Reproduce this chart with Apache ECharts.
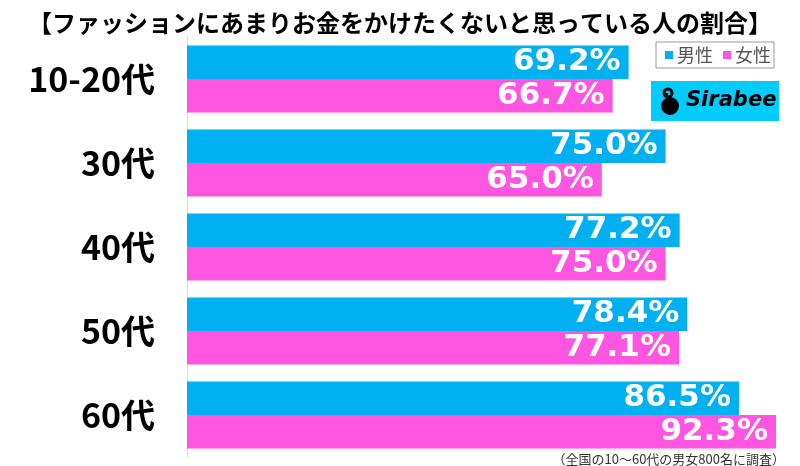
<!DOCTYPE html>
<html><head><meta charset="utf-8">
<script src="https://cdn.jsdelivr.net/npm/echarts@6/dist/echarts.min.js"></script>
<style>html,body{margin:0;padding:0;background:#fff}#c{width:800px;height:466px}</style>
</head><body><div id="c"></div>
<script>
const titleText = '【ファッションにあまりお金をかけたくないと思っている人の割合】';
const noteText = '（全国の10〜60代の男女800名に調査）';
const categories = ['10-20代', '30代', '40代', '50代', '60代'];
const maleName = '男性';
const femaleName = '女性';
const maleValues = [69.2, 75.0, 77.2, 78.4, 86.5];
const femaleValues = [66.7, 65.0, 75.0, 77.1, 92.3];

const blue = '#00b0f0';
const pink = '#ff55e0';
const cjk = '"Noto Sans CJK JP", sans-serif';

const valueLabel = {
  show: true, position: 'insideRight', distance: 8,
  color: '#fff', fontFamily: '"DejaVu Sans", sans-serif', fontWeight: 'bold', fontSize: 31,
  formatter: p => p.value.toFixed(1) + '%'
};

const chart = echarts.init(document.getElementById('c'), null, {renderer: 'canvas'});
chart.setOption({
  animation: false,
  backgroundColor: '#fff',
  title: {
    text: titleText, left: 'center', top: 6,
    textStyle: {fontFamily: cjk, fontWeight: 'bold', fontSize: 24, color: '#000'}
  },
  legend: {
    data: [maleName, femaleName], left: 656, top: 42,
    orient: 'horizontal', icon: 'rect', itemWidth: 8, itemHeight: 8, itemGap: 10,
    padding: [4, 3, 4, 9], borderColor: '#999', borderWidth: 1,
    textStyle: {fontFamily: cjk, fontSize: 18, color: '#555', padding: [0, 0, 0, -1]}
  },
  grid: {left: 187, right: 24, top: 37, bottom: 9},
  xAxis: {
    type: 'value', min: 0, max: 92.3, show: false
  },
  yAxis: {
    type: 'category', data: categories, inverse: true,
    axisLine: {show: true, lineStyle: {color: '#ddd', width: 1}},
    axisTick: {show: false},
    axisLabel: {margin: 32, fontFamily: cjk, fontWeight: 'bold', fontSize: 34, color: '#000'}
  },
  series: [
    {name: maleName, type: 'bar', data: maleValues, barGap: '0%', barCategoryGap: '20%',
     itemStyle: {color: blue}, label: valueLabel},
    {name: femaleName, type: 'bar', data: femaleValues, barGap: '0%', barCategoryGap: '20%',
     itemStyle: {color: pink}, label: valueLabel}
  ],
  graphic: [
    {type: 'rect', left: 651, top: 81, shape: {width: 128, height: 40}, style: {fill: '#00ccff'}},
    {type: 'circle', shape: {cx: 670, cy: 106, r: 9}, style: {fill: '#000'}},
    {type: 'circle', shape: {cx: 668, cy: 93, r: 4}, style: {fill: 'none', stroke: '#000', lineWidth: 3}},
    {type: 'rect', shape: {x: 665, y: 93, width: 3, height: 10}, style: {fill: '#000'}},
    {type: 'text', left: 686, top: 90,
     style: {text: 'Sirabee', fontFamily: '"DejaVu Sans", sans-serif', fontWeight: 'bold', fontStyle: 'italic', fontSize: 21, fill: '#000'}},
    {type: 'text', right: 15, top: 453,
     style: {text: noteText, fontFamily: cjk, fontSize: 13, fill: '#333'}}
  ]
});
</script></body></html>
